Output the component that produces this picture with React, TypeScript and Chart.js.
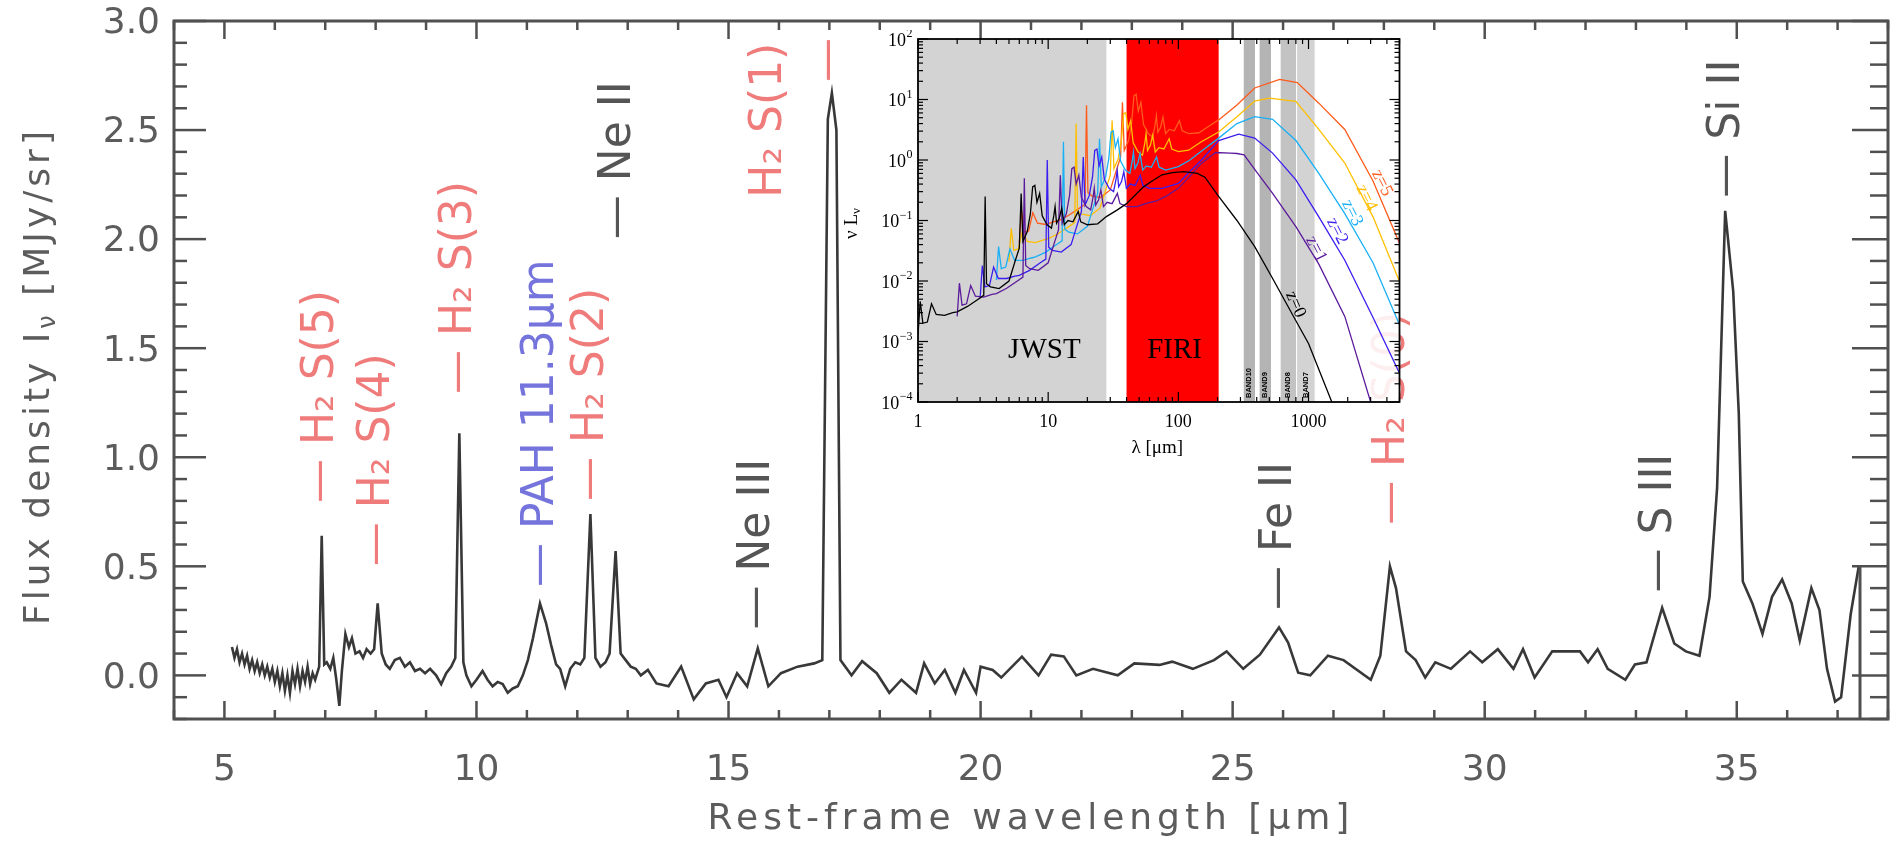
import React, { useEffect, useRef } from 'react';
import { Chart, registerables } from 'chart.js';

Chart.register(...registerables);

const FONT_SANS = '"DejaVu Sans", "Open Sans", sans-serif';
const FONT_SERIF = '"Liberation Serif", "DejaVu Serif", serif';

// ---------------- main spectrum ----------------
const wavelength = [
  5.15, 5.2, 5.25, 5.3, 5.35, 5.4, 5.45, 5.5, 5.55, 5.6, 5.65, 5.7, 5.75, 5.8, 5.85, 5.9, 5.95, 6.0, 6.05, 6.1,
  6.15, 6.2, 6.25, 6.3, 6.35, 6.4, 6.45, 6.5, 6.55, 6.6, 6.65, 6.7, 6.75, 6.8, 6.88, 6.93, 6.98, 7.03, 7.1, 7.16,
  7.22, 7.28, 7.33, 7.4, 7.47, 7.53, 7.6, 7.68, 7.75, 7.82, 7.9, 7.97, 8.04, 8.12, 8.2, 8.28, 8.38, 8.48, 8.58, 8.68,
  8.78, 8.88, 8.98, 9.08, 9.2, 9.3, 9.4, 9.5, 9.58, 9.66, 9.74, 9.8, 9.9, 10.0, 10.12, 10.22, 10.32, 10.42, 10.52, 10.62,
  10.72, 10.82, 10.92, 11.02, 11.12, 11.26, 11.38, 11.48, 11.58, 11.66, 11.76, 11.86, 11.96, 12.06, 12.14, 12.26, 12.36, 12.46, 12.56, 12.64,
  12.76, 12.86, 12.96, 13.06, 13.16, 13.26, 13.4, 13.57, 13.81, 14.06, 14.31, 14.55, 14.8, 14.96, 15.17, 15.37, 15.58, 15.79, 16.04, 16.37,
  16.7, 16.86, 16.97, 17.05, 17.14, 17.22, 17.44, 17.65, 17.94, 18.19, 18.43, 18.72, 18.88, 19.09, 19.29, 19.5, 19.67, 19.91, 20.0, 20.24,
  20.41, 20.82, 21.15, 21.4, 21.65, 21.9, 22.23, 22.72, 23.05, 23.55, 23.8, 24.21, 24.63, 24.88, 25.21, 25.54, 25.92, 26.1, 26.3, 26.54,
  26.89, 27.2, 27.74, 27.93, 28.12, 28.24, 28.44, 28.63, 28.82, 29.02, 29.33, 29.71, 29.95, 30.26, 30.57, 30.76, 30.99, 31.34, 31.89, 32.05,
  32.24, 32.44, 32.79, 32.98, 33.21, 33.52, 33.76, 33.99, 34.26, 34.46, 34.61, 34.77, 34.93, 35.04, 35.12, 35.31, 35.51, 35.7, 35.9, 36.09,
  36.25, 36.48, 36.64, 36.79, 36.95, 37.07, 37.26, 37.42,
];
const flux = [
  0.13, 0.08, 0.12, 0.06, 0.1, 0.05, 0.09, 0.03, 0.07, 0.02, 0.06, 0.01, 0.05, 0.0, 0.04, -0.01, 0.03, -0.03, 0.02, -0.05,
  0.01, -0.07, 0.0, -0.08, 0.02, -0.04, 0.03, -0.05, 0.02, -0.03, 0.04, -0.04, 0.01, -0.02, 0.04, 0.64, 0.05, 0.06, 0.03, 0.08,
  -0.02, -0.14, 0.02, 0.19, 0.13, 0.17, 0.1, 0.11, 0.08, 0.12, 0.1, 0.12, 0.33, 0.1, 0.05, 0.03, 0.07, 0.08, 0.04, 0.06,
  0.02, 0.03, 0.01, 0.03, 0.0, -0.04, 0.01, 0.04, 0.08, 1.11, 0.06, 0.0, -0.05, -0.02, 0.02, -0.02, -0.05, -0.03, -0.04, -0.08,
  -0.06, -0.05, 0.0, 0.07, 0.17, 0.33, 0.24, 0.14, 0.05, 0.03, -0.05, 0.03, 0.06, 0.05, 0.08, 0.74, 0.08, 0.04, 0.06, 0.1,
  0.57, 0.1, 0.07, 0.04, 0.03, 0.0, 0.025, -0.037, -0.05, 0.04, -0.11, -0.037, -0.02, -0.1, 0.01, -0.05, 0.124, -0.05, 0.01, 0.04,
  0.055, 0.07, 2.55, 2.67, 2.5, 0.07, 0.0, 0.065, 0.01, -0.08, -0.02, -0.08, 0.055, -0.037, 0.025, -0.08, 0.025, -0.08, 0.04, 0.025,
  -0.01, 0.086, 0.0, 0.095, 0.087, 0.0, 0.03, 0.0, 0.055, 0.048, 0.063, 0.03, 0.07, 0.11, 0.03, 0.095, 0.22, 0.15, 0.012, 0.0,
  0.09, 0.07, -0.02, 0.09, 0.5, 0.4, 0.11, 0.07, -0.01, 0.06, 0.03, 0.11, 0.06, 0.12, 0.03, 0.12, -0.01, 0.11, 0.11, 0.06,
  0.12, 0.03, -0.02, 0.05, 0.06, 0.31, 0.146, 0.11, 0.09, 0.36, 0.86, 2.13, 1.76, 1.2, 0.43, 0.33, 0.19, 0.36, 0.44, 0.33,
  0.16, 0.4, 0.3, 0.03, -0.12, -0.1, 0.28, 0.5,
];

const xTickValues = [5, 10, 15, 20, 25, 30, 35];
const xTickLabels = ['5', '10', '15', '20', '25', '30', '35'];
const yTickValues = [0, 0.5, 1.0, 1.5, 2.0, 2.5, 3.0];
const yTickLabels = ['0.0', '0.5', '1.0', '1.5', '2.0', '2.5', '3.0'];

// spectral line annotations
const lineNames = ['H₂ S(5)', 'H₂ S(4)', 'H₂ S(3)', 'PAH 11.3μm', 'H₂ S(2)', 'Ne II', 'Ne III', 'H₂ S(1)', 'Fe II', 'H₂ S(0)', 'S III', 'Si II'];
const lineWave = [6.93, 8.03, 9.66, 11.3, 12.28, 12.81, 15.57, 17.01, 25.94, 28.18, 33.46, 34.81];
const lineStart = [0.79, 0.5, 1.29, 0.405, 0.8, 2.0, 0.21, 2.72, 0.3, 0.69, 0.38, 2.19];
const lineColors = ['#ef7b7b', '#ef7b7b', '#ef7b7b', '#7474dc', '#ef7b7b', '#555555', '#555555', '#ef7b7b', '#555555', '#ef7b7b', '#555555', '#555555'];
// label text placed apart from its marker (null = right after the marker)
const lineTextWave = [null, null, null, null, null, null, null, 15.82, null, null, null, null];
const lineTextStart = [null, null, null, null, null, null, null, 2.19, null, null, null, null];

// ---------------- inset SEDs ----------------
const z0Wave = [1.0, 1.04, 1.09, 1.18, 1.27, 1.38, 1.6, 1.85, 2.0, 2.4, 2.9, 3.2, 3.28, 3.36, 3.6, 4.2, 5.0, 5.6, 6.0, 6.2,
  6.4, 6.9, 7.3, 7.6, 7.9, 8.2, 8.6, 9.0, 9.8, 10.6, 11.05, 11.3, 11.6, 12.2, 12.7, 13.3, 14.2, 15.5, 17.0, 17.8,
  20, 24, 28, 34, 40, 54, 62, 75, 90, 110, 140, 160, 204, 282, 386, 530, 800, 1000, 1510, 1800];
const z0Lum = [0.0013, 0.0046, 0.002, 0.0021, 0.0042, 0.0028, 0.0027, 0.003, 0.0031, 0.0038, 0.005, 0.0058, 0.25, 0.009, 0.008, 0.0075, 0.01, 0.022, 0.035, 0.28,
  0.045, 0.065, 0.13, 0.36, 0.38, 0.2, 0.28, 0.12, 0.085, 0.075, 0.12, 0.17, 0.09, 0.11, 0.16, 0.085, 0.1, 0.095, 0.14, 0.095,
  0.085, 0.088, 0.116, 0.15, 0.19, 0.36, 0.44, 0.57, 0.62, 0.64, 0.6, 0.52, 0.25, 0.1, 0.037, 0.011, 0.0022, 0.00093, 0.0001, 0.00004];

const z1Wave = [2.0, 2.08, 2.18, 2.36, 2.54, 2.76, 3.2, 3.7, 4.0, 4.8, 5.8, 6.4, 6.56, 6.72, 7.2, 8.4, 10.0, 11.2, 12.0, 12.4,
  12.8, 13.8, 14.6, 15.2, 15.8, 16.4, 17.2, 18.0, 19.6, 21.2, 22.1, 22.6, 23.2, 24.4, 25.4, 26.6, 28.4, 31.0, 34.0, 35.6,
  40, 48, 56, 68, 80, 100, 122, 150, 193, 250, 282, 320, 386, 530, 800, 1200, 1900, 3000, 3600];
const z1Lum = [0.0026, 0.0092, 0.004, 0.0042, 0.0084, 0.0056, 0.0054, 0.006, 0.0062, 0.0076, 0.01, 0.0116, 0.5, 0.018, 0.016, 0.015, 0.02, 0.044, 0.07, 0.56,
  0.09, 0.13, 0.26, 0.72, 0.76, 0.4, 0.56, 0.24, 0.17, 0.15, 0.24, 0.34, 0.18, 0.22, 0.32, 0.17, 0.2, 0.19, 0.28, 0.19,
  0.17, 0.17, 0.19, 0.21, 0.25, 0.34, 0.53, 0.88, 1.33, 1.3, 1.28, 1.22, 0.7, 0.28, 0.079, 0.019, 0.0026, 0.0001, 0.00004];

const z2Wave = [3.0, 3.12, 3.27, 3.54, 3.81, 4.14, 4.8, 5.55, 6.0, 7.2, 8.7, 9.6, 9.84, 10.1, 10.8, 12.6, 15.0, 16.8, 18.0, 18.6,
  19.2, 20.7, 21.9, 22.8, 23.7, 24.6, 25.8, 27.0, 29.4, 31.8, 33.2, 33.9, 34.8, 36.6, 38.1, 39.9, 42.6, 46.5, 51.0, 53.4,
  60, 75, 100, 122, 150, 204, 291, 386, 530, 800, 1200, 1900, 3130, 5000];
const z2Lum = [0.0052, 0.018, 0.008, 0.0084, 0.017, 0.011, 0.011, 0.012, 0.0124, 0.015, 0.02, 0.023, 1.0, 0.036, 0.032, 0.03, 0.04, 0.088, 0.14, 1.12,
  0.18, 0.26, 0.52, 1.44, 1.52, 0.8, 1.12, 0.48, 0.34, 0.3, 0.48, 0.68, 0.36, 0.44, 0.64, 0.34, 0.4, 0.38, 0.56, 0.38,
  0.34, 0.34, 0.41, 0.64, 0.99, 2.1, 2.67, 2.3, 1.3, 0.47, 0.115, 0.022, 0.0025, 0.0003];

const z3Wave = [4.0, 4.16, 4.36, 4.72, 5.08, 5.52, 6.4, 7.4, 8.0, 9.6, 11.6, 12.8, 13.1, 13.4, 14.4, 16.8, 20.0, 22.4, 24.0, 24.8,
  25.6, 27.6, 29.2, 30.4, 31.6, 32.8, 34.4, 36.0, 39.2, 42.4, 44.2, 45.2, 46.4, 48.8, 50.8, 53.2, 56.8, 62.0, 68.0, 71.2,
  80, 100, 122, 150, 204, 282, 386, 530, 800, 1200, 1900, 3130, 5000];
const z3Lum = [0.0104, 0.037, 0.016, 0.017, 0.034, 0.022, 0.022, 0.024, 0.025, 0.03, 0.04, 0.046, 2.0, 0.072, 0.064, 0.06, 0.08, 0.176, 0.28, 2.24,
  0.36, 0.52, 1.04, 2.88, 3.04, 1.6, 2.24, 0.96, 0.68, 0.6, 0.96, 1.36, 0.72, 0.88, 1.28, 0.68, 0.8, 0.76, 1.12, 0.76,
  0.68, 0.78, 0.99, 1.4, 2.3, 4.0, 5.2, 4.7, 2.1, 0.6, 0.13, 0.02, 0.0019];

const z4Wave = [5.0, 5.2, 5.45, 5.9, 6.35, 6.9, 8.0, 9.25, 10.0, 12.0, 14.5, 16.0, 16.4, 16.8, 18.0, 21.0, 25.0, 28.0, 30.0, 31.0,
  32.0, 34.5, 36.5, 38.0, 39.5, 41.0, 43.0, 45.0, 49.0, 53.0, 55.3, 56.5, 58.0, 61.0, 63.5, 66.5, 71.0, 77.5, 85.0, 89.0,
  100, 120, 150, 204, 282, 386, 500, 800, 1200, 1900, 3130, 5000];
const z4Lum = [0.021, 0.074, 0.032, 0.034, 0.067, 0.045, 0.043, 0.048, 0.05, 0.061, 0.08, 0.093, 4.0, 0.144, 0.128, 0.12, 0.16, 0.35, 0.56, 4.48,
  0.72, 1.04, 2.08, 5.76, 6.08, 3.2, 4.48, 1.92, 1.36, 1.2, 1.92, 2.72, 1.44, 1.76, 2.56, 1.36, 1.6, 1.52, 2.24, 1.52,
  1.38, 1.45, 2.0, 2.9, 5.2, 9.4, 10.5, 9.3, 3.2, 0.89, 0.115, 0.0098];

const z5Wave = [6.0, 6.24, 6.54, 7.08, 7.62, 8.28, 9.6, 11.1, 12.0, 14.4, 17.4, 19.2, 19.7, 20.2, 21.6, 25.2, 30.0, 33.6, 36.0, 37.2,
  38.4, 41.4, 43.8, 45.6, 47.4, 49.2, 51.6, 54.0, 58.8, 63.6, 66.3, 67.8, 69.6, 73.2, 76.2, 79.8, 85.2, 93.0, 102, 107,
  120, 144, 168, 204, 282, 386, 600, 820, 1200, 1900, 3130, 5000];
const z5Lum = [0.042, 0.147, 0.064, 0.067, 0.134, 0.09, 0.086, 0.096, 0.099, 0.122, 0.16, 0.186, 8.0, 0.29, 0.256, 0.24, 0.32, 0.7, 1.12, 8.96,
  1.44, 2.08, 4.16, 11.5, 12.2, 6.4, 8.96, 3.84, 2.72, 2.4, 3.84, 5.44, 2.88, 3.52, 5.12, 2.72, 3.2, 3.04, 4.48, 3.04,
  2.72, 2.82, 3.52, 4.6, 8.1, 15.5, 21.5, 19.0, 8.7, 3.2, 0.45, 0.042];

const seriesNames = ['z=0', 'z=1', 'z=2', 'z=3', 'z=4', 'z=5'];
const seriesColors = ['#000000', '#5b1a9c', '#3a1ef0', '#1ab0f5', '#ffbf00', '#ff5a1a'];
const seriesWaves = [z0Wave, z1Wave, z2Wave, z3Wave, z4Wave, z5Wave];
const seriesLums = [z0Lum, z1Lum, z2Lum, z3Lum, z4Lum, z5Lum];
const zLabelWave = [796, 1146, 1656, 2160, 2790, 3670];
const zLabelLum = [0.0041, 0.0337, 0.067, 0.133, 0.236, 0.418];

const bandNames = ['JWST', 'FIRI', 'BAND10', 'BAND9', 'BAND8', 'BAND7'];
const bandLo = [1, 40, 318, 421, 611, 817];
const bandHi = [28, 204, 388, 515, 802, 1114];
const bandColors = ['#d3d3d3', '#ff0000', '#b4b4b4', '#b4b4b4', '#c3c3c3', '#d3d3d3'];
const bigBandLabelWave = [9.35, 93.5];
const bigBandLabelLum = [0.00072, 0.00072];

const insetXTickValues = [1, 10, 100, 1000];
const insetXTickLabels = ['1', '10', '100', '1000'];
const insetYExponents = [-4, -3, -2, -1, 0, 1, 2];

function line(ctx: CanvasRenderingContext2D, x1: number, y1: number, x2: number, y2: number) {
  ctx.beginPath();
  ctx.moveTo(x1, y1);
  ctx.lineTo(x2, y2);
  ctx.stroke();
}

const mainDecor = {
  id: 'mainDecor',
  afterDatasetsDraw(chart: any) {
    const { ctx, chartArea: a } = chart;
    const xs = chart.scales.x;
    const ys = chart.scales.y;
    ctx.save();
    // line annotations
    ctx.textBaseline = 'middle';
    ctx.textAlign = 'left';
    ctx.font = `44px ${FONT_SANS}`;
    lineNames.forEach((name, i) => {
      ctx.fillStyle = lineColors[i];
      const px = xs.getPixelForValue(lineWave[i]);
      const py = ys.getPixelForValue(lineStart[i]);
      const tw = lineTextWave[i];
      ctx.save();
      ctx.translate(px, py);
      ctx.rotate(-Math.PI / 2);
      if (tw === null) {
        ctx.fillText('— ' + name, 0, 0);
      } else {
        ctx.fillText('—', 0, 0);
      }
      ctx.restore();
      if (tw !== null) {
        const tx = xs.getPixelForValue(tw);
        const ty = ys.getPixelForValue(lineTextStart[i] as number);
        ctx.save();
        ctx.translate(tx, ty);
        ctx.rotate(-Math.PI / 2);
        ctx.fillText(name, 0, 0);
        ctx.restore();
      }
    });
    ctx.restore();
  },
  afterDraw(chart: any) {
    const { ctx, chartArea: a } = chart;
    const xs = chart.scales.x;
    const ys = chart.scales.y;
    ctx.save();
    ctx.strokeStyle = '#505050';
    ctx.lineWidth = 2.5;
    for (let v = 4; v <= 38; v++) {
      const px = xs.getPixelForValue(v);
      const major = v % 5 === 0;
      const len = major ? 18 : 9;
      line(ctx, px, a.bottom, px, a.bottom - len);
      line(ctx, px, a.top, px, a.top + len);
    }
    for (let k = -2; k <= 30; k++) {
      const py = ys.getPixelForValue(k / 10);
      const major = k % 5 === 0;
      line(ctx, a.left, py, a.left + (major ? 32 : 13), py);
      line(ctx, a.right, py, a.right - (major ? 36 : 18), py);
    }
    ctx.lineWidth = 3;
    ctx.strokeRect(a.left, a.top, a.right - a.left, a.bottom - a.top);
    // small box at the right border
    line(ctx, 1860, ys.getPixelForValue(0.5), 1860, a.bottom);

    ctx.fillStyle = '#5c5c5c';
    ctx.font = `36px ${FONT_SANS}`;
    ctx.textAlign = 'right';
    ctx.textBaseline = 'middle';
    yTickValues.forEach((v, i) => ctx.fillText(yTickLabels[i], a.left - 14, ys.getPixelForValue(v) + 3));
    ctx.textAlign = 'center';
    xTickValues.forEach((v, i) => ctx.fillText(xTickLabels[i], xs.getPixelForValue(v), 771));

    // axis titles
    (ctx as any).letterSpacing = '5px';
    ctx.font = `36px ${FONT_SANS}`;
    ctx.fillText('Rest-frame wavelength [μm]', (a.left + a.right) / 2, 820);

    (ctx as any).letterSpacing = '4px';
    ctx.save();
    ctx.translate(40, 376);
    ctx.rotate(-Math.PI / 2);
    ctx.textAlign = 'left';
    const p1 = 'Flux density I';
    const p2 = 'ν';
    const p3 = ' [MJy/sr]';
    ctx.font = `36px ${FONT_SANS}`;
    const w1 = ctx.measureText(p1).width;
    const w3 = ctx.measureText(p3).width;
    ctx.font = `24px ${FONT_SANS}`;
    const w2 = ctx.measureText(p2).width;
    let sx = -(w1 + w2 + w3) / 2;
    ctx.font = `36px ${FONT_SANS}`;
    ctx.fillText(p1, sx, 0);
    sx += w1;
    ctx.font = `24px ${FONT_SANS}`;
    ctx.fillText(p2, sx, 9);
    sx += w2;
    ctx.font = `36px ${FONT_SANS}`;
    ctx.fillText(p3, sx, 0);
    ctx.restore();
    ctx.restore();
  },
};

const insetDecor = {
  id: 'insetDecor',
  beforeDatasetsDraw(chart: any) {
    const { ctx, chartArea: a } = chart;
    const xs = chart.scales.x;
    const ys = chart.scales.y;
    ctx.save();
    ctx.fillStyle = 'rgba(255,255,255,0.88)';
    ctx.fillRect(a.left, a.top, a.right - a.left, a.bottom - a.top);
    bandNames.forEach((name, i) => {
      const x0 = Math.max(a.left, xs.getPixelForValue(bandLo[i]));
      const x1 = Math.min(a.right, xs.getPixelForValue(bandHi[i]));
      ctx.fillStyle = bandColors[i];
      ctx.fillRect(x0, a.top, x1 - x0, a.bottom - a.top);
    });
    // big band names
    ctx.fillStyle = '#000';
    ctx.font = `29px ${FONT_SERIF}`;
    ctx.textAlign = 'center';
    ctx.textBaseline = 'middle';
    for (let i = 0; i < 2; i++) {
      ctx.fillText(bandNames[i], xs.getPixelForValue(bigBandLabelWave[i]), ys.getPixelForValue(bigBandLabelLum[i]));
    }
    // ALMA band names
    ctx.font = `bold 7.5px "Liberation Sans", sans-serif`;
    ctx.textAlign = 'left';
    for (let i = 2; i < bandNames.length; i++) {
      const cx = xs.getPixelForValue(Math.sqrt(bandLo[i] * bandHi[i]));
      ctx.save();
      ctx.translate(cx, a.bottom - 4);
      ctx.rotate(-Math.PI / 2);
      ctx.fillText(bandNames[i], 0, 0);
      ctx.restore();
    }
    ctx.restore();
  },
  afterDatasetsDraw(chart: any) {
    const { ctx, chartArea: a } = chart;
    const xs = chart.scales.x;
    const ys = chart.scales.y;
    ctx.save();
    // z labels
    ctx.font = `18px ${FONT_SERIF}`;
    ctx.textAlign = 'center';
    ctx.textBaseline = 'middle';
    seriesNames.forEach((name, i) => {
      ctx.save();
      ctx.translate(xs.getPixelForValue(zLabelWave[i]), ys.getPixelForValue(zLabelLum[i]));
      ctx.rotate(i === 0 ? 1.16 : 1.1);
      ctx.fillStyle = seriesColors[i];
      ctx.fillText(name, 0, 0);
      ctx.restore();
    });
    // axes
    ctx.strokeStyle = '#000';
    ctx.lineWidth = 1.2;
    for (let d = 0; d <= 3; d++) {
      for (let m = 1; m <= 9; m++) {
        const v = m * Math.pow(10, d);
        if (v > 5000) break;
        const px = xs.getPixelForValue(v);
        const len = m === 1 ? 10 : 5;
        line(ctx, px, a.bottom, px, a.bottom - len);
        line(ctx, px, a.top, px, a.top + len);
      }
    }
    for (let d = -4; d <= 2; d++) {
      for (let m = 1; m <= 9; m++) {
        const v = m * Math.pow(10, d);
        if (v > 100) break;
        const py = ys.getPixelForValue(v);
        const len = m === 1 ? 10 : 5;
        line(ctx, a.left, py, a.left + len, py);
        line(ctx, a.right, py, a.right - len, py);
      }
    }
    ctx.lineWidth = 1.8;
    ctx.strokeRect(a.left, a.top, a.right - a.left, a.bottom - a.top);

    // tick labels
    ctx.fillStyle = '#000';
    ctx.font = `18px ${FONT_SERIF}`;
    ctx.textAlign = 'center';
    ctx.textBaseline = 'middle';
    insetXTickValues.forEach((v, i) => ctx.fillText(insetXTickLabels[i], xs.getPixelForValue(v), a.bottom + 20));
    ctx.textAlign = 'left';
    insetYExponents.forEach((e) => {
      const py = ys.getPixelForValue(Math.pow(10, e));
      const sup = e < 0 ? '−' + Math.abs(e) : String(e);
      ctx.font = `18px ${FONT_SERIF}`;
      const w10 = ctx.measureText('10').width;
      ctx.font = `12px ${FONT_SERIF}`;
      const ws = ctx.measureText(sup).width;
      const start = a.left - 6 - w10 - ws;
      ctx.font = `18px ${FONT_SERIF}`;
      ctx.fillText('10', start, py + 2);
      ctx.font = `12px ${FONT_SERIF}`;
      ctx.fillText(sup, start + w10 + 0.5, py - 5);
    });
    // x title
    ctx.font = `19px ${FONT_SERIF}`;
    ctx.textAlign = 'center';
    ctx.fillText('λ [μm]', xs.getPixelForValue(100) - 21, a.bottom + 46);
    // y title
    ctx.save();
    ctx.translate(22, (a.top + a.bottom) / 2 + 3);
    ctx.rotate(-Math.PI / 2);
    ctx.textAlign = 'left';
    ctx.font = `19px ${FONT_SERIF}`;
    const t1 = 'ν L';
    const w1 = ctx.measureText(t1).width;
    ctx.font = `13px ${FONT_SERIF}`;
    const w2 = ctx.measureText('ν').width;
    let sx = -(w1 + w2) / 2;
    ctx.font = `19px ${FONT_SERIF}`;
    ctx.fillText(t1, sx, 0);
    ctx.font = `13px ${FONT_SERIF}`;
    ctx.fillText('ν', sx + w1, 5);
    ctx.restore();
    ctx.restore();
  },
};

export default function App() {
  const mainRef = useRef<HTMLCanvasElement>(null);
  const insetRef = useRef<HTMLCanvasElement>(null);

  useEffect(() => {
    const mainChart = new Chart(mainRef.current as HTMLCanvasElement, {
      type: 'line',
      data: {
        datasets: [
          {
            data: wavelength.map((x, i) => ({ x, y: flux[i] })),
            borderColor: '#383838',
            borderWidth: 2.6,
            pointRadius: 0,
            tension: 0,
            fill: false,
          },
        ],
      },
      options: {
        animation: false,
        responsive: false,
        maintainAspectRatio: false,
        devicePixelRatio: 1,
        layout: { padding: { left: 174, right: 2, top: 21, bottom: 130 } },
        plugins: { legend: { display: false }, tooltip: { enabled: false } },
        scales: {
          x: { type: 'linear', min: 4, max: 38, display: false },
          y: { type: 'linear', min: -0.2, max: 3.0, display: false },
        },
      },
      plugins: [mainDecor],
    } as any);

    const insetChart = new Chart(insetRef.current as HTMLCanvasElement, {
      type: 'line',
      data: {
        datasets: seriesNames.map((name, k) => ({
          label: name,
          data: seriesWaves[k].map((x, i) => ({ x, y: seriesLums[k][i] })),
          borderColor: seriesColors[k],
          borderWidth: 1.3,
          pointRadius: 0,
          tension: 0,
          fill: false,
          clip: 0,
        })),
      },
      options: {
        animation: false,
        responsive: false,
        maintainAspectRatio: false,
        devicePixelRatio: 1,
        layout: { padding: { left: 88, right: 20.5, top: 9, bottom: 108 } },
        plugins: { legend: { display: false }, tooltip: { enabled: false } },
        scales: {
          x: { type: 'logarithmic', min: 1, max: 5000, display: false },
          y: { type: 'logarithmic', min: 0.0001, max: 100, display: false },
        },
      },
      plugins: [insetDecor],
    } as any);

    return () => {
      mainChart.destroy();
      insetChart.destroy();
    };
  }, []);

  return (
    <div style={{ position: 'absolute', left: 0, top: 0, width: 1890, height: 849, background: '#ffffff' }}>
      <canvas ref={mainRef} width={1890} height={849} style={{ position: 'absolute', left: 0, top: 0, width: 1890, height: 849 }} />
      <canvas ref={insetRef} width={590} height={480} style={{ position: 'absolute', left: 830, top: 30, width: 590, height: 480 }} />
    </div>
  );
}
